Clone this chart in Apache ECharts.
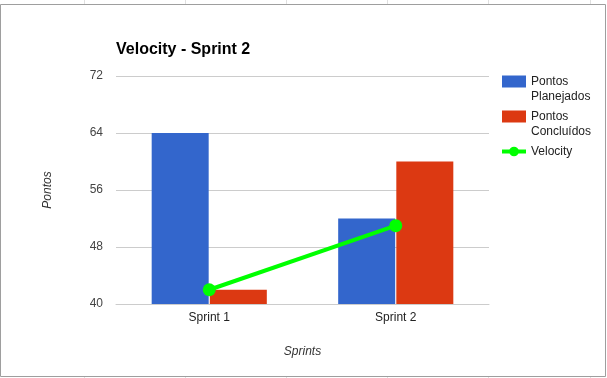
<!DOCTYPE html>
<html>
<head>
<meta charset="utf-8">
<script src="https://cdn.jsdelivr.net/npm/echarts@6/dist/echarts.min.js"></script>
<style>
  html, body { margin: 0; padding: 0; background: #fff; }
  #chart { width: 607px; height: 378px; }
</style>
</head>
<body>
<div id="chart"></div>
<script>
// chart data
const categories = ['Sprint 1', 'Sprint 2'];
const planejados = [64, 52];
const concluidos = [42, 60];
const velocity = [42, 51];
const seriesNames = ['Pontos Planejados', 'Pontos Concluídos', 'Velocity'];

const chart = echarts.init(document.getElementById('chart'));
const font = 'Liberation Sans, Arial, sans-serif';

// faint spreadsheet cell lines peeking out around the chart box
const sheetLines = [];
[84, 185, 286, 387, 488, 590].forEach(x => {
  sheetLines.push({ type: 'line', shape: { x1: x + 0.5, y1: 0, x2: x + 0.5, y2: 4 }, style: { stroke: '#e0e0e0', lineWidth: 1 } });
  sheetLines.push({ type: 'line', shape: { x1: x + 0.5, y1: 377, x2: x + 0.5, y2: 378 }, style: { stroke: '#e0e0e0', lineWidth: 1 } });
});

// legend entries: bars get square swatches, the line keeps its line+dot icon
const legendData = seriesNames.map(name => ({
  name: name,
  icon: name === 'Velocity' ? undefined : 'rect'
}));

// three text lines per entry, so the swatch sits on the first real line
function legendLabel(name) {
  const parts = name.split(' ');
  return '\n' + parts[0] + '\n' + (parts[1] || '');
}

const option = {
  backgroundColor: '#fff',
  textStyle: { fontFamily: font },
  title: {
    text: 'Velocity - Sprint 2',
    left: 111,
    top: 37,
    textStyle: { fontSize: 16, fontWeight: 'bold', color: '#000', fontFamily: font }
  },
  legend: {
    orient: 'vertical',
    left: 500,
    top: 59,
    padding: 0,
    itemWidth: 24,
    itemHeight: 12,
    itemGap: -10,
    data: legendData,
    formatter: legendLabel,
    lineStyle: { width: 4 },
    textStyle: { fontSize: 12, color: '#222', lineHeight: 15, fontFamily: font }
  },
  grid: { left: 116, right: 118, top: 76, bottom: 74 },
  xAxis: {
    type: 'category',
    data: categories,
    name: 'Sprints',
    nameLocation: 'middle',
    nameGap: 42,
    nameTextStyle: { fontStyle: 'italic', fontSize: 12, color: '#333' },
    axisLine: { show: true, lineStyle: { color: '#ccc' } },
    axisTick: { show: false },
    axisLabel: { fontSize: 12, color: '#222', margin: 8 }
  },
  yAxis: {
    type: 'value',
    min: 40,
    max: 72,
    interval: 8,
    name: 'Pontos',
    nameLocation: 'middle',
    nameRotate: 90,
    nameGap: 62,
    nameTextStyle: { fontStyle: 'italic', fontSize: 12, color: '#333' },
    axisLine: { show: false },
    axisTick: { show: false },
    axisLabel: { fontSize: 12, color: '#444', margin: 13 },
    splitLine: { lineStyle: { color: '#ccc' } }
  },
  series: [
    {
      name: seriesNames[0],
      type: 'bar',
      data: planejados,
      barWidth: 57,
      barGap: '2%',
      itemStyle: { color: '#3366cc' }
    },
    {
      name: seriesNames[1],
      type: 'bar',
      data: concluidos,
      barWidth: 57,
      barGap: '2%',
      itemStyle: { color: '#dc3912' }
    },
    {
      name: seriesNames[2],
      type: 'line',
      data: velocity,
      symbol: 'circle',
      symbolSize: 13,
      z: 5,
      lineStyle: { color: '#00ff00', width: 4 },
      itemStyle: { color: '#00ff00' }
    }
  ],
  graphic: [
    {
      type: 'rect',
      shape: { x: 0.5, y: 4.5, width: 605, height: 372 },
      style: { fill: 'none', stroke: '#9e9e9e', lineWidth: 1 },
      z: 100
    }
  ].concat(sheetLines)
};

chart.setOption(option);
</script>
</body>
</html>
